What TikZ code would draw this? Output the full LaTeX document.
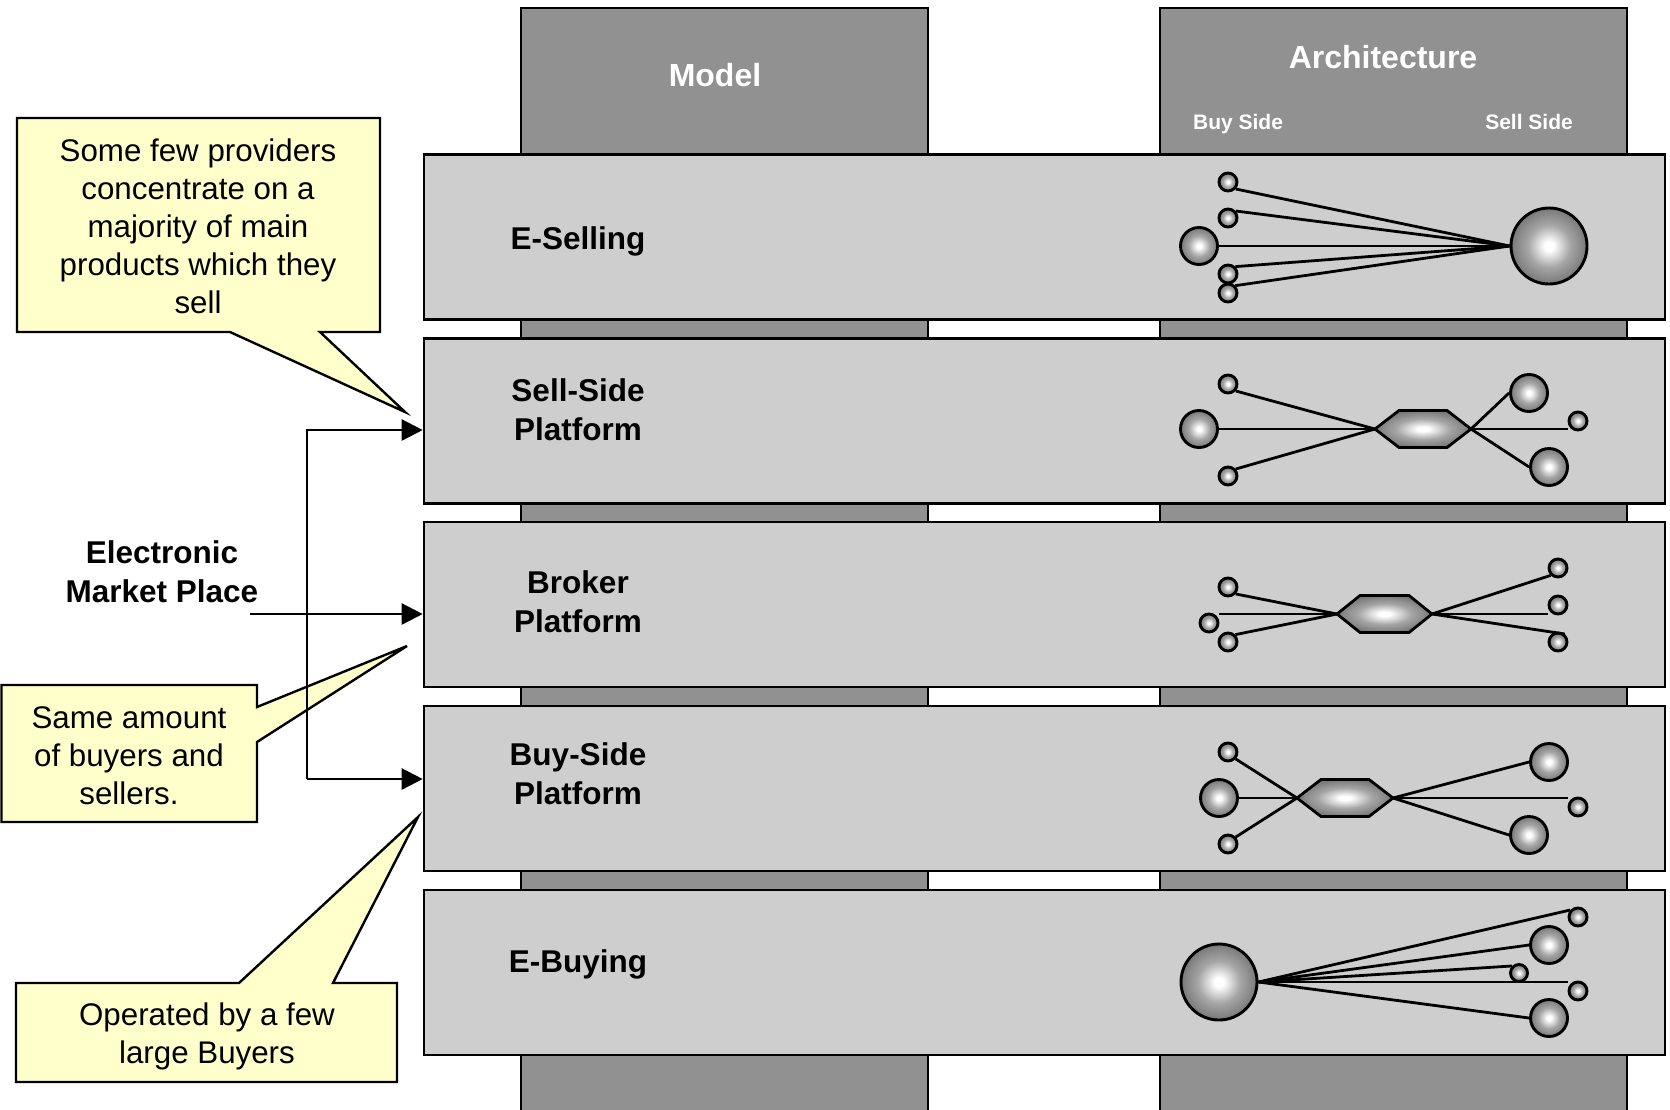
\documentclass[tikz,border=0pt]{standalone}
\usepackage{fontspec}
\setmainfont{Liberation Sans}
\usetikzlibrary{arrows.meta}
\definecolor{bandgray}{RGB}{206,206,206}
\definecolor{colgray}{RGB}{145,145,145}
\definecolor{noteyellow}{RGB}{255,255,204}
\pgfdeclareradialshading{orbshade}{\pgfpoint{0bp}{0bp}}{color(0bp)=(white); color(3bp)=(white); color(14bp)=(black!35); color(27bp)=(black!56); color(50bp)=(black!63)}
\tikzset{
  colbox/.style={draw,fill=colgray,line width=2pt},
  bandbox/.style={draw,fill=bandgray,line width=2.6pt,minimum width=1241pt,minimum height=165pt,inner sep=0pt},
  headtxt/.style={text=white,font=\fontsize{32}{38}\selectfont\bfseries},
  sidetxt/.style={text=white,anchor=base,font=\fontsize{21}{25}\selectfont\bfseries},
  bandtxt/.style={align=center,font=\fontsize{31.5}{39}\selectfont\bfseries},
  notetxt/.style={align=center,font=\fontsize{31.3}{38}\selectfont},
  notebox/.style={draw,fill=noteyellow,line width=2.4pt},
  orb/.style={circle,draw,line width=2.9pt,shading=orbshade,inner sep=0pt},
  sorb/.style={orb,minimum size=18pt},
  morb/.style={orb,minimum size=37pt},
  borb/.style={orb,minimum size=76pt},
  hexa/.style={draw,line width=2.8pt,shading=orbshade},
  link/.style={line width=2.8pt},
  arr/.style={line width=2.4pt,-{Triangle[length=21pt,width=21pt]}}
}
\begin{document}
\begin{tikzpicture}[x=1pt,y=-1pt]
\useasboundingbox (0,0) rectangle (1670,1109);
% columns behind the bands
\draw[colbox] (521,8) rectangle (928,1120);
\draw[colbox] (1160,8) rectangle (1627,1120);
\node[headtxt] (model) at (715,75) {Model};
\node[headtxt] (arch) at (1383,57) {Architecture};
\node[sidetxt] (buy) at (1238,129) {Buy Side};
\node[sidetxt] (sell) at (1529,129) {Sell Side};
% bands
\node[bandbox] (esell) at (1044.5,237) {};
\node[bandbox] (ssp) at (1044.5,421) {};
\node[bandbox] (brk) at (1044.5,604.5) {};
\node[bandbox] (bsp) at (1044.5,788.5) {};
\node[bandbox] (ebuy) at (1044.5,972.5) {};
\node[bandtxt] (tesell) at (578,241) {E-Selling};
\node[bandtxt] (tssp) at (578,410) {Sell-Side\\Platform};
\node[bandtxt] (tbrk) at (578,602) {Broker\\Platform};
\node[bandtxt] (tbsp) at (578,773.5) {Buy-Side\\Platform};
\node[bandtxt] (tebuy) at (578,964) {E-Buying};
% e-selling
\node[borb] (sbig) at (1549,246) {};
\node[morb] (sb) at (1199,246) {};
\node[sorb] (s1) at (1228,182) {};
\node[sorb] (s2) at (1228,218) {};
\node[sorb] (s3) at (1228,274) {};
\node[sorb] (s4) at (1228,293) {};
\draw[link] (sbig.west) -- (s1.-42);
\draw[link] (sbig.west) -- (s2.42);
\draw[link] (sbig.west) -- (sb.east);
\draw[link] (sbig.west) -- (s3.45);
\draw[link] (sbig.west) -- (s4.45);
% sell-side platform
\coordinate (hl2) at (1375,429);
\coordinate (hr2) at (1471,429);
\node[sorb] (p1) at (1228,384) {};
\node[morb] (p2) at (1199,429) {};
\node[sorb] (p3) at (1228,476) {};
\node[morb] (p4) at (1529,393) {};
\node[sorb] (p5) at (1578,421) {};
\node[morb] (p6) at (1549,467) {};
\draw[link] (hl2) -- (p1.-42);
\draw[link] (hl2) -- (p2.east);
\draw[link] (hl2) -- (p3.42);
\draw[link] (hr2) -- (p4.west);
\draw[link] (hr2) -- (hr2 -| p5.west);
\draw[link] (hr2) -- (p6.west);
\draw[hexa] (1375,429) -- (1399,410.5) -- (1447,410.5) -- (1471,429) -- (1447,447.5) -- (1399,447.5) -- cycle;
% broker platform
\coordinate (hl3) at (1337,614);
\coordinate (hr3) at (1432,614);
\node[sorb] (q1) at (1228,587) {};
\node[sorb] (q2) at (1209,623) {};
\node[sorb] (q3) at (1228,642) {};
\node[sorb] (q4) at (1558,568) {};
\node[sorb] (q5) at (1558,605) {};
\node[sorb] (q6) at (1558,642) {};
\draw[link] (hl3) -- (q1.-42);
\draw[link] (hl3) -- (hl3 -| q2.east);
\draw[link] (hl3) -- (q3.45);
\draw[link] (hr3) -- (q4.-135);
\draw[link] (hr3) -- (hr3 -| q5.west);
\draw[link] (hr3) -- (q6.50);
\draw[hexa] (1337,614) -- (1360,595.5) -- (1409,595.5) -- (1432,614) -- (1409,632.5) -- (1360,632.5) -- cycle;
% buy-side platform
\coordinate (hl4) at (1297,798);
\coordinate (hr4) at (1393,798);
\node[sorb] (r1) at (1228,752) {};
\node[morb] (r2) at (1219,798) {};
\node[sorb] (r3) at (1228,844) {};
\node[morb] (r4) at (1549,762) {};
\node[sorb] (r5) at (1578,807) {};
\node[morb] (r6) at (1529,835) {};
\draw[link] (hl4) -- (r1.-42);
\draw[link] (hl4) -- (r2.east);
\draw[link] (hl4) -- (r3.42);
\draw[link] (hr4) -- (r4.west);
\draw[link] (hr4) -- (hr4 -| r5.west);
\draw[link] (hr4) -- (r6.west);
\draw[hexa] (1297,798) -- (1321,779.5) -- (1369,779.5) -- (1393,798) -- (1369,816.5) -- (1321,816.5) -- cycle;
% e-buying
\node[borb] (t0) at (1219,982) {};
\node[sorb] (t1) at (1578,917) {};
\node[morb] (t2) at (1549,945) {};
\node[orb,minimum size=17pt] (t3) at (1519,973) {};
\node[sorb] (t4) at (1578,991) {};
\node[morb] (t5) at (1549,1018) {};
\draw[link] (t0.east) -- (t1.138);
\draw[link] (t0.east) -- (t2.west);
\draw[link] (t0.east) -- (t3.135);
\draw[link] (t0.east) -- (t0.east -| t4.west);
\draw[link] (t0.east) -- (t5.west);
% callouts
\draw[notebox] (17,118) -- (380,118) -- (380,332) -- (320,332) -- (405,412) -- (230,332) -- (17,332) -- cycle;
\node[notetxt] (nsell) at (198,226) {Some few providers\\concentrate on a\\majority of main\\products which they\\sell};
\draw[notebox] (1.5,685) -- (257,685) -- (257,707) -- (407,646) -- (257,742) -- (257,822) -- (1.5,822) -- cycle;
\node[notetxt] (nsame) at (129,756) {Same amount\\of buyers and\\sellers.};
\draw[notebox] (16,983) -- (239,983) -- (418,817) -- (333,983) -- (397,983) -- (397,1082) -- (16,1082) -- cycle;
\node[notetxt] (nbuy) at (207,1036.5) {Operated by a few\\large Buyers};
% market place arrows
\coordinate (jtop) at (307,430);
\coordinate (jbot) at (307,779);
\coordinate (emp) at (250,614);
\node[bandtxt] (temp) at (162,572) {Electronic\\Market Place};
\draw[arr] (jbot) -- (jtop) -- (jtop -| ssp.west);
\draw[arr] (jbot) -- (jbot -| bsp.west);
\draw[arr] (emp) -- (emp -| brk.west);
\end{tikzpicture}
\end{document}
